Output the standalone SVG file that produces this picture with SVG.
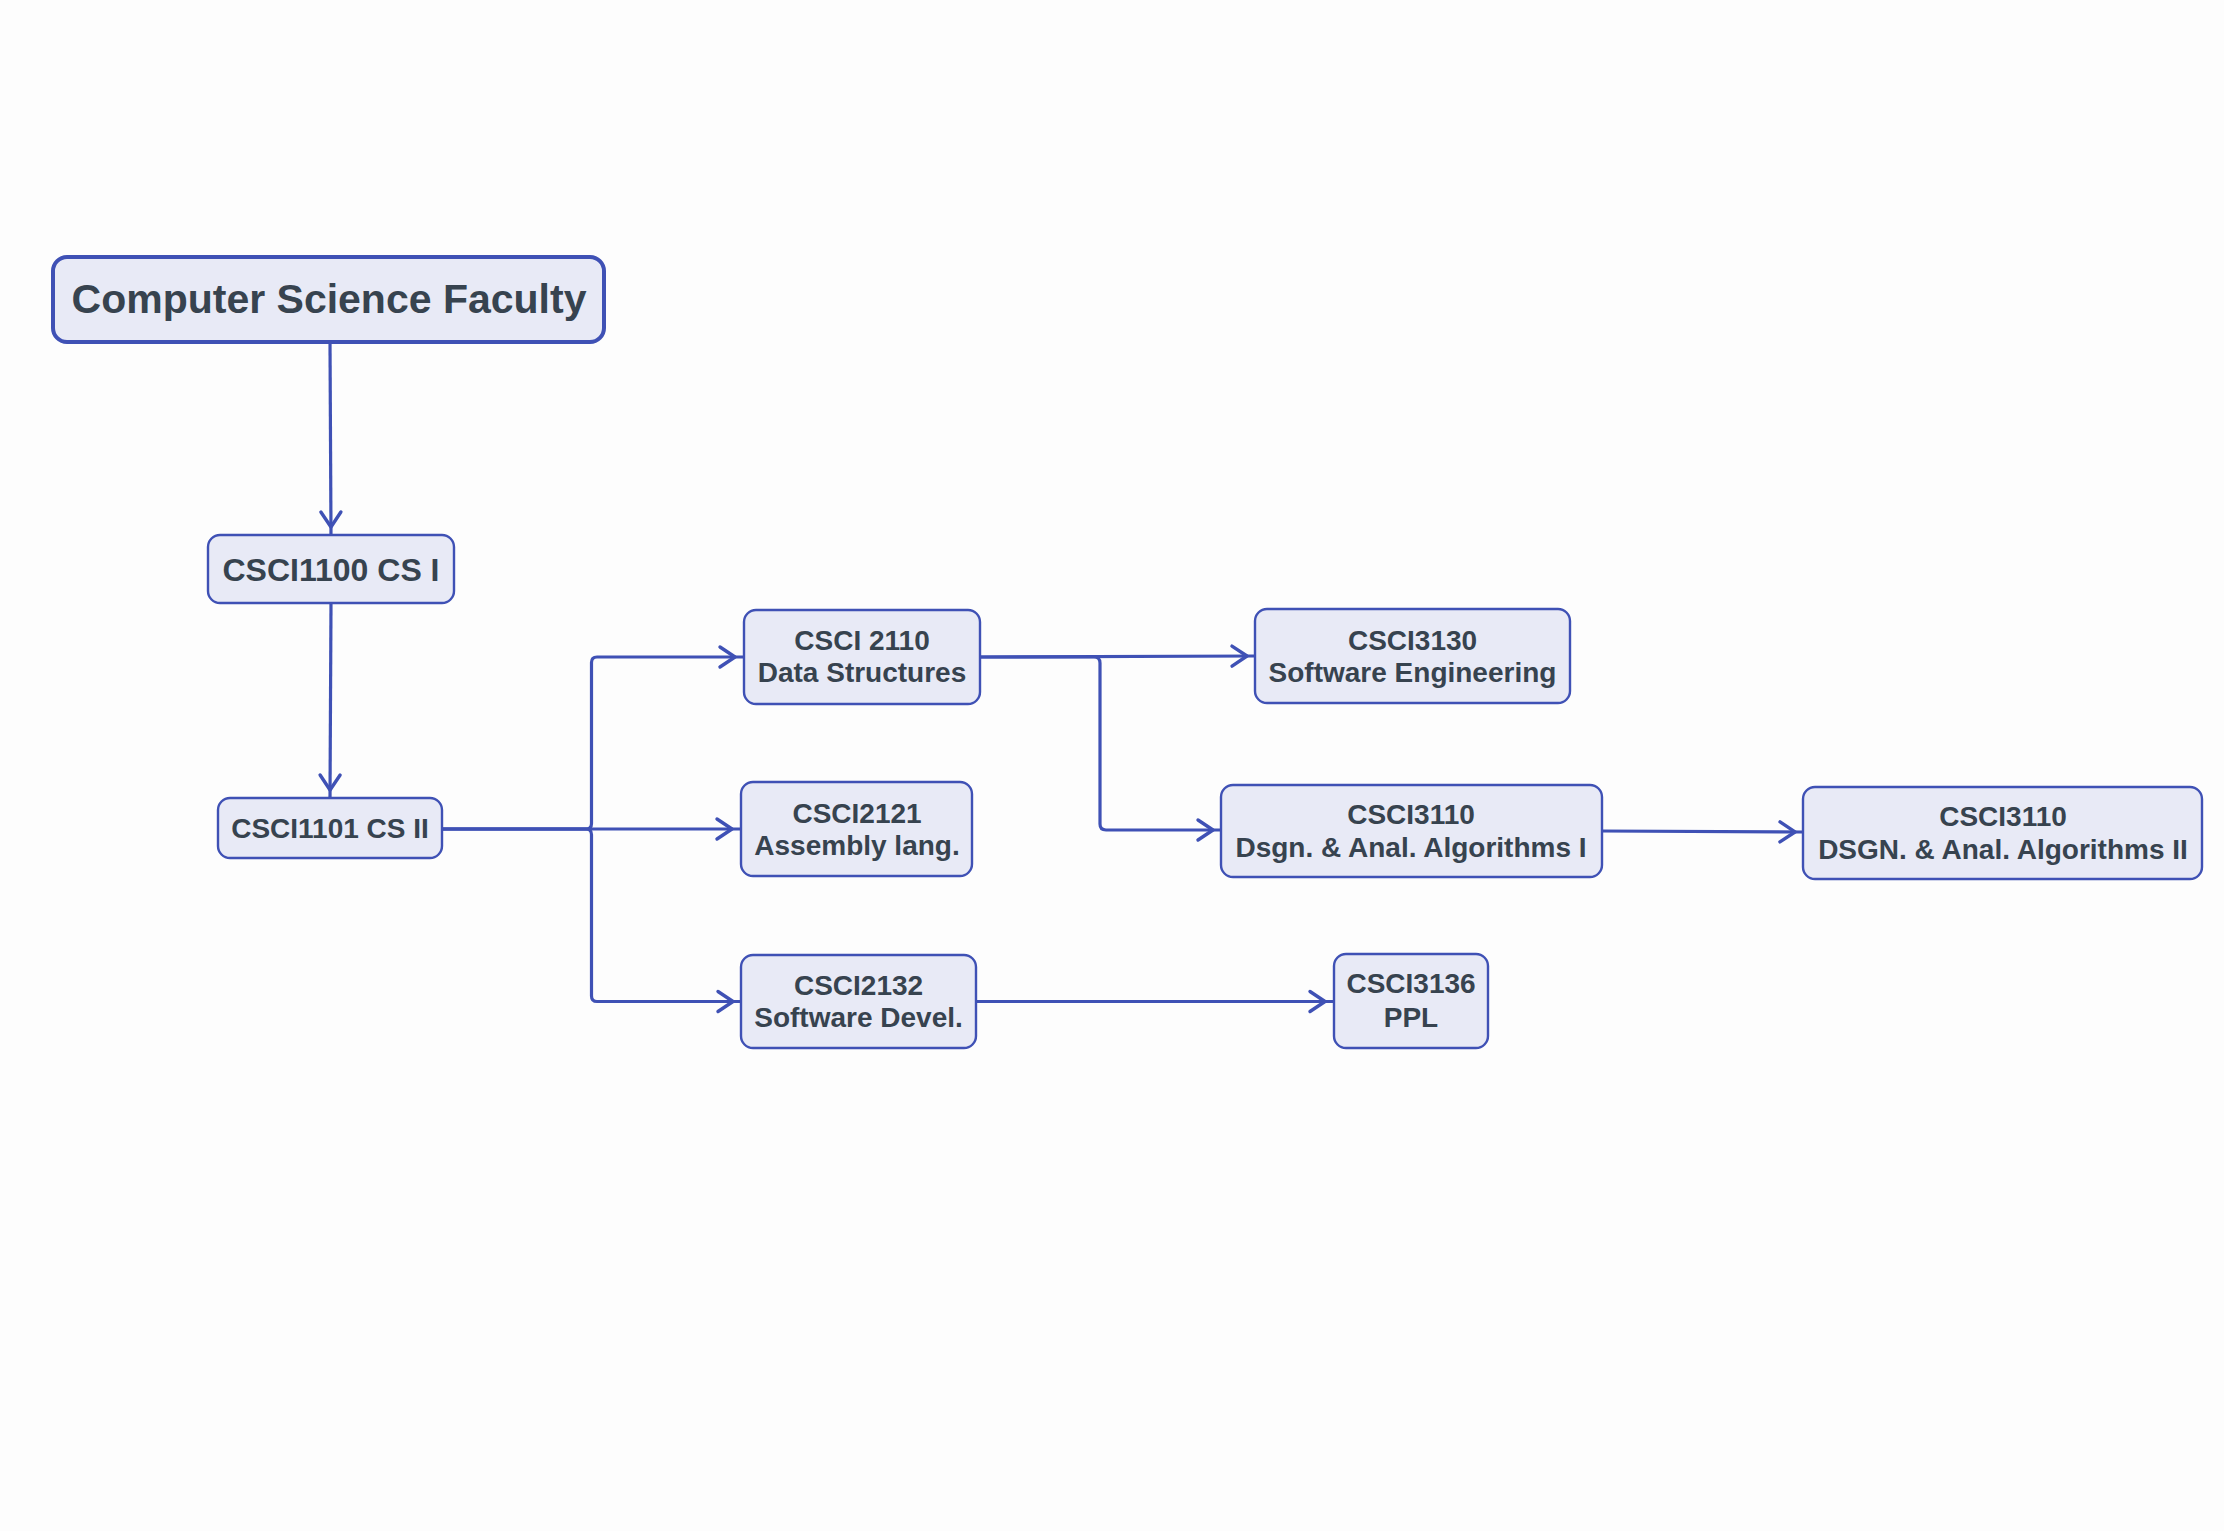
<svg xmlns="http://www.w3.org/2000/svg" width="2224" height="1531" viewBox="0 0 2224 1531">
  <style>
    .node rect { fill: #E8EAF6; stroke: #3F51B5; stroke-width: 2.4; }
    .root rect { stroke-width: 4; }
    .node text { font-family: "Liberation Sans", Arial, sans-serif; font-weight: bold; fill: #37434F; text-anchor: middle; }
    .edge { fill: none; stroke: #3F51B5; stroke-width: 3.2; marker-end: url(#arrow); }
  </style>
  <defs>
    <marker id="arrow" markerUnits="userSpaceOnUse" viewBox="0 0 30 24" markerWidth="30" markerHeight="24" refX="23" refY="12" orient="auto" overflow="visible">
      <path d="M 0 2 L 15 12 L 0 22" fill="none" stroke="#3F51B5" stroke-width="3.4" stroke-linecap="round" stroke-linejoin="round"/>
    </marker>
  </defs>
  <rect width="2224" height="1531" fill="#FDFDFD"/>

  <g id="connectors">
    <path class="edge" d="M 330 342 L 331 535"/>
    <path class="edge" d="M 331 603 L 330 798"/>
    <path class="edge" d="M 442 829 L 586 829 Q 591.5 829 591.5 823.5 L 591.5 662.5 Q 591.5 657 597 657 L 743 657"/>
    <path class="edge" d="M 442 829 L 740 829"/>
    <path class="edge" d="M 442 829 L 586 829 Q 591.5 829 591.5 834.5 L 591.5 996 Q 591.5 1001.5 597 1001.5 L 741 1001.5"/>
    <path class="edge" d="M 980 657 L 1255 656"/>
    <path class="edge" d="M 980 657 L 1094 657 Q 1100 657 1100 663 L 1100 824 Q 1100 830 1106 830 L 1221 830"/>
    <path class="edge" d="M 976 1001.5 L 1333 1001.5"/>
    <path class="edge" d="M 1602 831 L 1803 832"/>
  </g>

  <g id="root" class="node root">
    <rect x="53" y="257" width="551" height="85" rx="14"/>
    <text x="329" y="313" font-size="41">Computer Science Faculty</text>
  </g>
  <g id="cs1" class="node">
    <rect x="208" y="535" width="246" height="68" rx="12"/>
    <text x="331" y="581" font-size="32">CSCI1100 CS I</text>
  </g>
  <g id="cs2" class="node">
    <rect x="218" y="798" width="224" height="60" rx="12"/>
    <text x="330" y="838" font-size="28">CSCI1101 CS II</text>
  </g>
  <g id="ds" class="node">
    <rect x="744" y="610" width="236" height="94" rx="12"/>
    <text x="862" y="650" font-size="28">CSCI 2110</text>
    <text x="862" y="682" font-size="28">Data Structures</text>
  </g>
  <g id="asm" class="node">
    <rect x="741" y="782" width="231" height="94" rx="12"/>
    <text x="857" y="823" font-size="28">CSCI2121</text>
    <text x="857" y="855" font-size="28">Assembly lang.</text>
  </g>
  <g id="sd" class="node">
    <rect x="741" y="955" width="235" height="93" rx="12"/>
    <text x="858.5" y="995" font-size="28">CSCI2132</text>
    <text x="858.5" y="1027" font-size="28">Software Devel.</text>
  </g>
  <g id="se" class="node">
    <rect x="1255" y="609" width="315" height="94" rx="12"/>
    <text x="1412.5" y="650" font-size="28">CSCI3130</text>
    <text x="1412.5" y="682" font-size="28">Software Engineering</text>
  </g>
  <g id="algo1" class="node">
    <rect x="1221" y="785" width="381" height="92" rx="12"/>
    <text x="1411" y="824" font-size="28">CSCI3110</text>
    <text x="1411" y="857" font-size="28">Dsgn. &amp; Anal. Algorithms I</text>
  </g>
  <g id="algo2" class="node">
    <rect x="1803" y="787" width="399" height="92" rx="12"/>
    <text x="2003" y="826" font-size="28">CSCI3110</text>
    <text x="2003" y="859" font-size="28">DSGN. &amp; Anal. Algorithms II</text>
  </g>
  <g id="ppl" class="node">
    <rect x="1334" y="954" width="154" height="94" rx="12"/>
    <text x="1411" y="993" font-size="28">CSCI3136</text>
    <text x="1411" y="1027" font-size="28">PPL</text>
  </g>
</svg>
